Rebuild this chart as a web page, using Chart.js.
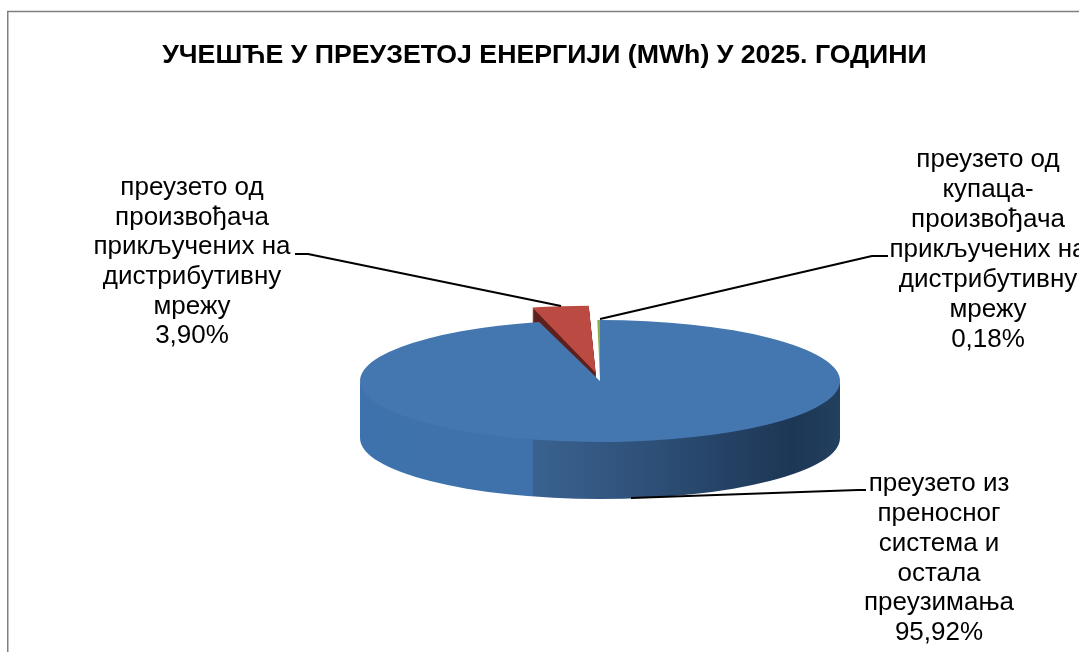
<!DOCTYPE html>
<html><head><meta charset="utf-8">
<style>html,body{margin:0;padding:0;background:#fff;overflow:hidden}#w{position:absolute;left:0;top:0;width:1079px;height:652px}</style>
<script src="https://cdn.jsdelivr.net/npm/chart.js@4"></script>
</head><body><div id="w"><canvas id="c" width="1079" height="652"></canvas></div>
<script>
const categories = [
  ['преузето из','преносног','система и','остала','преузимања'],
  ['преузето од','произвођача','прикључених на','дистрибутивну','мрежу'],
  ['преузето од','купаца-','произвођача','прикључених на','дистрибутивну','мрежу']
];
const values = [95.92, 3.90, 0.18];
const sliceColors = ['#4477B0', '#BB4A43', '#8CAF4C'];
const titleText = 'УЧЕШЋЕ У ПРЕУЗЕТОЈ ЕНЕРГИЈИ (MWh) У 2025. ГОДИНИ';

const PIE = {cx: 600, cy: 381, tilt: 0.254, depth: 57};
const LABELS = [
  {x: 939, y: 484, lh: 29.8},
  {x: 192, y: 188, lh: 29.6},
  {x: 988, y: 160, lh: 30}
];
const LEADERS = [
  [[631,498],[858,490],[866,490]],
  [[561,306],[308,254],[295,254]],
  [[600,319],[872,256],[888,256]]
];

const pie3d = {
  id: 'pie3d',
  beforeDraw(chart) {
    const c = chart.ctx;
    c.save();
    c.strokeStyle = '#808080';
    c.lineWidth = 1.5;
    c.beginPath();
    c.moveTo(7.75, 652); c.lineTo(7.75, 11.5); c.lineTo(1079, 11.5);
    c.stroke();
    c.restore();
  },
  beforeDatasetsDraw(chart) {
    const c = chart.ctx, meta = chart.getDatasetMeta(0);
    const el = meta.data[0], r = el.outerRadius, ry = r * PIE.tilt;
    const {cx, cy, depth} = PIE;
    // cylinder wall of the large slice
    const g = c.createLinearGradient(cx - r, 0, cx + r, 0);
    g.addColorStop(0, '#3E72AC');
    g.addColorStop(0.359, '#3F72AB');
    g.addColorStop(0.361, '#3A6290');
    g.addColorStop(0.6, '#2E5078');
    g.addColorStop(0.9, '#1D3655');
    g.addColorStop(1, '#23405F');
    c.save();
    c.fillStyle = g;
    c.beginPath();
    c.ellipse(cx, cy - 2, r, ry, 0, 0, Math.PI);
    c.lineTo(cx - r, cy + depth);
    c.ellipse(cx, cy + depth, r, ry, 0, Math.PI, 0, true);
    c.closePath();
    c.fill();
    c.restore();
    // transform that tilts the library's own arcs
    c.save();
    c.translate(cx, cy);
    c.scale(1, PIE.tilt);
    c.translate(-el.x, -el.y);
    // extruded side of the exploded slice: the library's arc, redrawn in the side colour
    const red = meta.data[1];
    const opts = red.options;
    red.options = Object.create(opts, {backgroundColor: {value: '#5E201D'}});
    for (let d = 40; d >= 1; d--) {
      c.save();
      c.translate(0, d / PIE.tilt);
      red.draw(c);
      c.restore();
    }
    red.options = opts;
  },
  afterDatasetsDraw(chart) {
    const c = chart.ctx;
    c.restore();
    c.save();
    c.strokeStyle = '#000';
    c.lineWidth = 2;
    c.lineJoin = 'round';
    LEADERS.forEach(pts => {
      c.beginPath();
      pts.forEach((p, i) => i ? c.lineTo(p[0], p[1]) : c.moveTo(p[0], p[1]));
      c.stroke();
    });
    c.fillStyle = '#000';
    c.font = '26px "Liberation Sans", Arial, sans-serif';
    c.textAlign = 'center';
    c.textBaseline = 'middle';
    categories.forEach((lines, i) => {
      const L = LABELS[i];
      const all = lines.concat([values[i].toFixed(2).replace('.', ',') + '%']);
      all.forEach((t, k) => c.fillText(t, L.x, L.y + k * L.lh));
    });
    c.restore();
  }
};

new Chart(document.getElementById('c'), {
  type: 'pie',
  data: {
    labels: categories.map(l => l.join(' ')),
    datasets: [{
      data: values,
      backgroundColor: sliceColors,
      borderWidth: 0,
      offset: [0, 130, 0],
      radius: 240,
      clip: false
    }]
  },
  plugins: [pie3d],
  options: {
    responsive: false,
    animation: false,
    layout: {padding: {left: 10}},
    plugins: {
      legend: {display: false},
      tooltip: {enabled: false},
      title: {
        display: true,
        text: titleText,
        color: '#000',
        font: {family: '"Liberation Sans", Arial, sans-serif', size: 26.7, weight: 'bold'},
        padding: {top: 40, bottom: 0}
      }
    }
  }
});
</script></body></html>
